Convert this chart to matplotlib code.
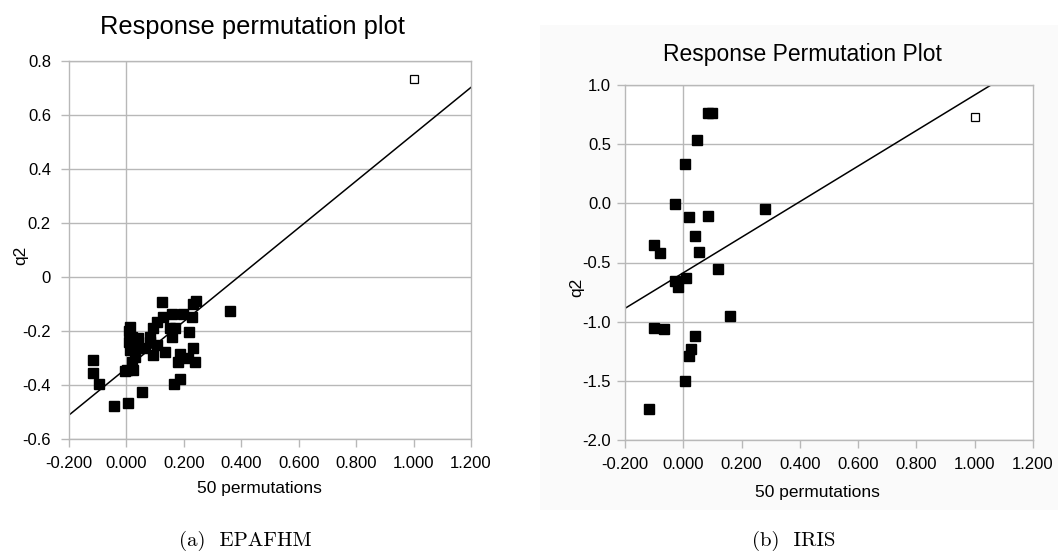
import matplotlib
matplotlib.use('Agg')
import matplotlib.pyplot as plt
from matplotlib.patches import Rectangle
import numpy as np

# ---- EPAFHM: 50 permutations (x = correlation, y = q2)
epa_x = [0.123, 0.241, 0.232, 0.361, 0.158, 0.198, 0.227, 0.129, 0.106, 0.094,
         0.013, 0.152, 0.169, 0.219, 0.018, 0.041, 0.082, 0.158, 0.082, 0.106,
         0.013, 0.041, 0.065, 0.094, 0.134, 0.187, 0.233, 0.216, 0.181, 0.239,
         0.018, 0.030, 0.001, 0.024, -0.116, -0.116, -0.094, -0.043, 0.007, 0.053,
         0.187, 0.167, -0.005, 0.008, 0.010]
epa_y = [-0.094, -0.088, -0.100, -0.125, -0.137, -0.137, -0.147, -0.147, -0.166, -0.190,
         -0.184, -0.190, -0.190, -0.205, -0.221, -0.227, -0.221, -0.221, -0.240, -0.252,
         -0.270, -0.264, -0.264, -0.289, -0.277, -0.286, -0.264, -0.301, -0.314, -0.314,
         -0.314, -0.295, -0.344, -0.344, -0.307, -0.356, -0.397, -0.478, -0.468, -0.427,
         -0.379, -0.397, -0.347, -0.200, -0.240]
epa_orig = (1.0, 0.732)
epa_line = (-0.338, 0.867)   # intercept, slope

# ---- IRIS
iris_x = [0.085, 0.098, 0.048, 0.007, -0.030, 0.021, 0.084, 0.279, 0.040, -0.099,
          -0.079, 0.055, 0.120, -0.030, 0.008, -0.017, 0.160, -0.102, -0.065, 0.039,
          0.026, 0.021, 0.006, -0.117]
iris_y = [0.760, 0.760, 0.535, 0.330, -0.006, -0.113, -0.107, -0.050, -0.276, -0.350,
          -0.418, -0.414, -0.558, -0.654, -0.634, -0.710, -0.953, -1.057, -1.063, -1.120,
          -1.234, -1.290, -1.502, -1.739]
iris_orig = (1.0, 0.732)
iris_line = (-0.587, 1.503)

x_ticks = [-0.2, 0.0, 0.2, 0.4, 0.6, 0.8, 1.0, 1.2]

plt.rcParams['font.family'] = ['Liberation Sans', 'DejaVu Sans']
grid_c = '#b8b8b8'
W, H = 1058, 551

fig = plt.figure(figsize=(10.58, 5.51), dpi=100)
fig.patches.append(Rectangle((540 / W, 1 - 510 / H), 518 / W, 485 / H,
                             transform=fig.transFigure, facecolor='#fafafa',
                             edgecolor='none', zorder=-10))

ax1 = fig.add_axes([69 / W, 1 - 439 / H, 402 / W, 378 / H])
ax2 = fig.add_axes([625 / W, 1 - 440 / H, 408 / W, 355 / H])
ax2.set_facecolor('white')


def ftext(px, py, s, **kw):
    # place text by pixel position in the figure
    fig.text(px / W, 1 - py / H, s, ha='center', va='center', **kw)


def style(ax, ylim, yticks, ylabels):
    ax.set_xlim(-0.2, 1.2)
    ax.set_ylim(*ylim)
    ax.set_xticks(x_ticks)
    ax.set_xticklabels(['%.3f' % t for t in x_ticks])
    ax.set_yticks(yticks)
    ax.set_yticklabels(ylabels)
    for s in ax.spines.values():
        s.set_color(grid_c)
        s.set_linewidth(1.0)
    ax.tick_params(colors=grid_c, labelcolor='black', labelsize=12,
                   length=6, width=1.0, direction='out')
    ax.tick_params(axis='x', pad=6)
    ax.grid(axis='y', color=grid_c, linewidth=1.0)
    ax.axvline(0, color=grid_c, linewidth=1.0, zorder=1)
    ax.set_axisbelow(True)


def draw(ax, xs, ys, orig, line):
    ax.plot(xs, ys, 's', color='black', ms=6.5, zorder=3)
    ax.plot(*orig, 's', mfc='white', mec='black', mew=0.9, ms=5.8, zorder=3)
    lx = np.array([-0.2, 1.2])
    ax.plot(lx, line[0] + line[1] * lx, color='black', lw=1.1, zorder=2)


style(ax1, (-0.6, 0.8), [-0.6, -0.4, -0.2, 0.0, 0.2, 0.4, 0.6, 0.8],
      ['-0.6', '-0.4', '-0.2', '0', '0.2', '0.4', '0.6', '0.8'])
ax1.tick_params(axis='y', pad=7)
draw(ax1, epa_x, epa_y, epa_orig, epa_line)

style(ax2, (-2.0, 1.0), [-2.0, -1.5, -1.0, -0.5, 0.0, 0.5, 1.0],
      ['-2.0', '-1.5', '-1.0', '-0.5', '0.0', '0.5', '1.0'])
ax2.tick_params(axis='y', pad=4)
draw(ax2, iris_x, iris_y, iris_orig, iris_line)

# titles and axis labels
ftext(252, 27, 'Response permutation plot', fontsize=18.4)
ftext(802, 55, 'Response Permutation Plot', fontsize=16.5)
ftext(259, 489, '50 permutations', fontsize=12.5)
ftext(817, 492, '50 permutations', fontsize=12.5)
ftext(21, 255, 'q2', fontsize=12.5, rotation=90)
ftext(577, 287, 'q2', fontsize=12.5, rotation=90)

# sub-figure captions
ftext(245, 541, '(a)  EPAFHM', family='cmr10', fontsize=15)
ftext(794, 541, '(b)  IRIS', family='cmr10', fontsize=15)

fig.savefig('out.png', dpi=100)
